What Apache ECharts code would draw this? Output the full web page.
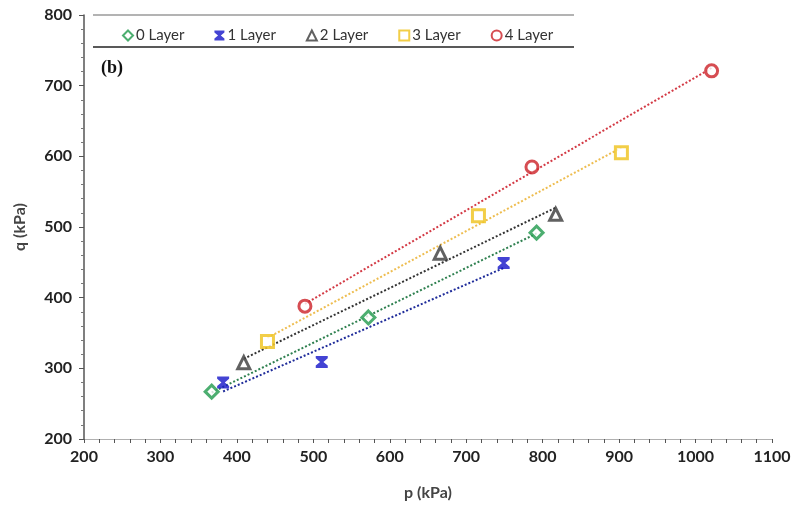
<!DOCTYPE html>
<html>
<head>
<meta charset="utf-8">
<script src="https://cdn.jsdelivr.net/npm/echarts@6/dist/echarts.min.js"></script>
<style>
  html, body { margin: 0; padding: 0; background: #fff; }
  #chart { width: 795px; height: 512px; }
</style>
</head>
<body>
<div id="chart"></div>
<script>
// p–q stress points for each number of layers
const seriesNames = ['0 Layer', '1 Layer', '2 Layer', '3 Layer', '4 Layer'];
const pLayer0 = [367, 572, 792];
const qLayer0 = [267, 372, 492];
const pLayer1 = [382, 511, 749];
const qLayer1 = [280, 309, 449];
const pLayer2 = [409, 666, 817];
const qLayer2 = [308, 463, 518];
const pLayer3 = [440, 716, 903];
const qLayer3 = [338, 516, 605];
const pLayer4 = [489, 786, 1021];
const qLayer4 = [388, 585, 721];

const xTicks = { min: 200, max: 1100, step: 100 };
const yTicks = { min: 200, max: 800, step: 100 };

const pData = [pLayer0, pLayer1, pLayer2, pLayer3, pLayer4];
const qData = [qLayer0, qLayer1, qLayer2, qLayer3, qLayer4];

const colors = ['#1f9a4c', '#1414c8', '#3a3a3a', '#efc21a', '#cc2127'];
const trendColors = ['#2f8050', '#1f2c9a', '#333333', '#eebd50', '#d33a45'];
const bowtie = 'path://M0,0 L10,0 L10,2 L6.4,5 L10,8 L10,10 L0,10 L0,8 L3.6,5 L0,2 Z';
const symbols = ['diamond', bowtie, 'triangle', 'rect', 'circle'];
const symbolSizes = [13, 12, 12, 12, 12];

// least-squares linear trend over the range of the points
function trend(xs, ys) {
  const n = xs.length;
  const mx = xs.reduce((a, b) => a + b, 0) / n;
  const my = ys.reduce((a, b) => a + b, 0) / n;
  let sxx = 0, sxy = 0;
  for (let i = 0; i < n; i++) {
    sxx += (xs[i] - mx) * (xs[i] - mx);
    sxy += (xs[i] - mx) * (ys[i] - my);
  }
  const b = sxy / sxx;
  const a = my - b * mx;
  const x0 = Math.min(...xs), x1 = Math.max(...xs);
  return [[x0, a + b * x0], [x1, a + b * x1]];
}

const series = [];
seriesNames.forEach((name, i) => {
  series.push({
    name: name + ' trend',
    type: 'line',
    data: trend(pData[i], qData[i]),
    symbol: 'none',
    silent: true,
    z: 1,
    lineStyle: { color: trendColors[i], width: 2, type: [2, 2] }
  });
});
seriesNames.forEach((name, i) => {
  series.push({
    name: name,
    type: 'scatter',
    data: pData[i].map((p, k) => [p, qData[i][k]]),
    symbol: symbols[i],
    symbolSize: symbolSizes[i],
    z: 3,
    itemStyle: i === 1
      ? { color: colors[i], borderWidth: 0 }
      : { color: '#ffffff', borderColor: colors[i], borderWidth: 3 }
  });
});

const chart = echarts.init(document.getElementById('chart'), null, { renderer: 'canvas' });
chart.setOption({
  backgroundColor: '#ffffff',
  animation: false,
  grid: { left: 84, right: 23, top: 15, bottom: 73, containLabel: false },
  title: {
    text: '(b)',
    left: 96,
    top: 54,
    textStyle: { fontFamily: 'Liberation Serif', fontWeight: 'bold', fontSize: 18, color: '#111' }
  },
  legend: {
    data: seriesNames,
    left: 117,
    top: 23,
    itemWidth: 10,
    itemHeight: 10,
    itemGap: 30,
    textStyle: { fontFamily: 'Lato', fontSize: 15, color: '#333', padding: [0, 0, 0, -2] }
  },
  graphic: [
    { type: 'line', shape: { x1: 93, y1: 15, x2: 574, y2: 15 }, style: { stroke: '#9a9a9a', lineWidth: 1.5 } },
    { type: 'line', shape: { x1: 93, y1: 47, x2: 574, y2: 47 }, style: { stroke: '#222', lineWidth: 1.5 } }
  ],
  xAxis: {
    type: 'value',
    min: xTicks.min,
    max: xTicks.max,
    interval: xTicks.step,
    name: 'p (kPa)',
    nameLocation: 'middle',
    nameGap: 46,
    nameTextStyle: { fontFamily: 'Lato', fontSize: 16, fontWeight: 'bold', color: '#444' },
    axisLine: { lineStyle: { color: '#b0b0b0', width: 1 } },
    axisTick: { show: true, length: 4, lineStyle: { color: '#555' } },
    minorTick: { show: true, splitNumber: 5, length: 4, lineStyle: { color: '#555' } },
    splitLine: { show: false },
    axisLabel: {
      fontFamily: 'Lato', fontWeight: 'bold', fontSize: 16, color: '#222', margin: 10,
      formatter: v => String(v)
    }
  },
  yAxis: {
    type: 'value',
    min: yTicks.min,
    max: yTicks.max,
    interval: yTicks.step,
    name: 'q (kPa)',
    nameLocation: 'middle',
    nameGap: 56,
    nameTextStyle: { fontFamily: 'Lato', fontSize: 16, fontWeight: 'bold', color: '#444' },
    axisLine: { lineStyle: { color: '#555', width: 1.5 } },
    axisTick: { show: true, length: 5, lineStyle: { color: '#555' } },
    minorTick: { show: true, splitNumber: 5, length: 3, lineStyle: { color: '#777' } },
    splitLine: { show: false },
    axisLabel: {
      fontFamily: 'Lato', fontWeight: 'bold', fontSize: 16, color: '#222', margin: 12,
      formatter: v => String(v)
    }
  },
  series: series
});
</script>
</body>
</html>
